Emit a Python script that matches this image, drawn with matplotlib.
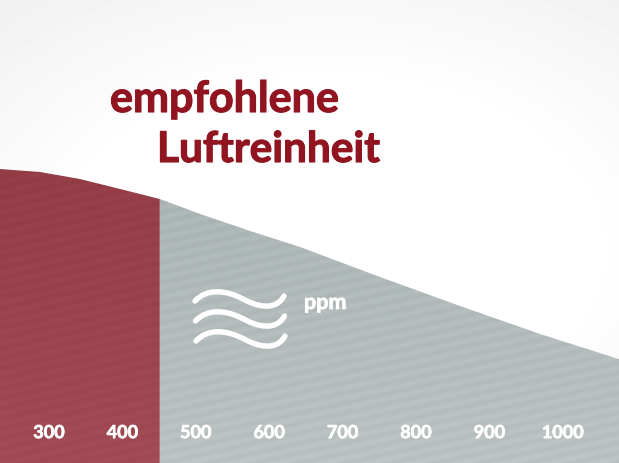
import numpy as np
import matplotlib
matplotlib.use("Agg")
import matplotlib.pyplot as plt
import matplotlib.patheffects as pe
from matplotlib.path import Path
from matplotlib.patches import PathPatch

W, H = 619, 464

# ppm scale
ppm_ticks = [300, 400, 500, 600, 700, 800, 900, 1000]
ppm_curve = [233, 288, 342, 397, 451, 506, 574, 642, 751, 860, 969, 1076]
level_curve = [294, 291, 284, 274, 264, 249, 232, 216, 186, 157, 129, 104]
limit_ppm = 451

px_per_ppm = 0.734
x0 = 300 - 49 / px_per_ppm
x1 = x0 + W / px_per_ppm

title_red = "#911520"
font = ["Lato", "Open Sans", "DejaVu Sans"]

fig = plt.figure(figsize=(W / 100, H / 100), dpi=100)

# page background, light grey towards the corners
yy, xx = np.mgrid[0:H, 0:W]
d1 = np.hypot((xx - 330) / 420, (yy - 250) / 270)
bg = 1 - 0.05 * np.clip(d1 - 0.62, 0, 1) * 2
ax_bg = fig.add_axes([0, 0, 1, 1])
ax_bg.imshow(bg, cmap="gray", vmin=0, vmax=1, extent=[0, W, H, 0], aspect="auto")
ax_bg.axis("off")

ax = fig.add_axes([0, 0, 1, 1])
ax.patch.set_alpha(0)


def striped(top, bottom, amp):
    # vertical gradient with faint diagonal stripes
    t = (yy[..., None] - 170) / (H - 170)
    img = np.array(top)[None, None, :] * (1 - t) + np.array(bottom)[None, None, :] * t
    s = np.sin(2 * np.pi * (yy + 0.22 * xx) / 10.0)[..., None]
    return np.clip(img + s * amp, 0, 1)


xs = np.array(ppm_curve, dtype=float)
ys = np.array(level_curve, dtype=float)
for lo, hi, top, bottom, amp in [
    (x0, limit_ppm, (0.580, 0.240, 0.280), (0.640, 0.295, 0.330), 0.008),
    (limit_ppm, x1, (0.670, 0.705, 0.705), (0.730, 0.762, 0.762), 0.014),
]:
    im = ax.imshow(striped(top, bottom, amp), extent=[x0, x1, -2, H], aspect="auto", origin="upper")
    # clip each gradient to its part of the area under the curve
    inside = (xs > lo) & (xs < hi)
    px = np.r_[lo, xs[inside], hi]
    py = np.r_[np.interp(lo, xs, ys), ys[inside], np.interp(hi, xs, ys)]
    outline = np.r_[np.c_[px, py], [[hi, -2], [lo, -2], [px[0], py[0]]]]
    im.set_clip_path(Path(outline), ax.transData)
ax.set_xlim(x0, x1)
ax.set_ylim(0, H)

thick_white = [pe.withStroke(linewidth=0.5, foreground="white")]
thick_red = [pe.withStroke(linewidth=0.8, foreground=title_red)]

ax.set_xticks(ppm_ticks)
ax.set_xticklabels([str(p) for p in ppm_ticks])
ax.set_yticks([])
ax.tick_params(axis="x", direction="in", length=0, pad=-28, colors="white")
for lab in ax.get_xticklabels():
    lab.set_family(font)
    lab.set_fontweight("bold")
    lab.set_fontsize(13)
    lab.set_path_effects(thick_white)
for s in ax.spines.values():
    s.set_visible(False)

# overlay in pixel coordinates for the title and wave icon
ov = fig.add_axes([0, 0, 1, 1])
ov.set_xlim(0, W)
ov.set_ylim(H, 0)
ov.axis("off")

ov.text(110, 113, "empfohlene", color=title_red, fontsize=31, fontweight="bold",
        family=font, va="baseline", ha="left", path_effects=thick_red)
ov.text(157, 163, "Luftreinheit", color=title_red, fontsize=30.5, fontweight="bold",
        family=font, va="baseline", ha="left", path_effects=thick_red)
ov.text(304, 310, "ppm", color="white", fontsize=15.5, fontweight="bold",
        family=font, va="baseline", ha="left", path_effects=thick_white)

# wave icon
for dx, dy in [(0, 0), (0.5, 20), (1, 40)]:
    pts = [(195, 302), (207, 289), (226, 291), (243, 300),
           (256, 307), (275, 313), (284, 297)]
    pts = [(a + dx, b + dy) for a, b in pts]
    codes = [Path.MOVETO] + [Path.CURVE4] * 6
    ov.add_patch(PathPatch(Path(pts, codes), fc="none", ec="white", lw=3.9, capstyle="round"))

fig.savefig("out.png", dpi=100)
